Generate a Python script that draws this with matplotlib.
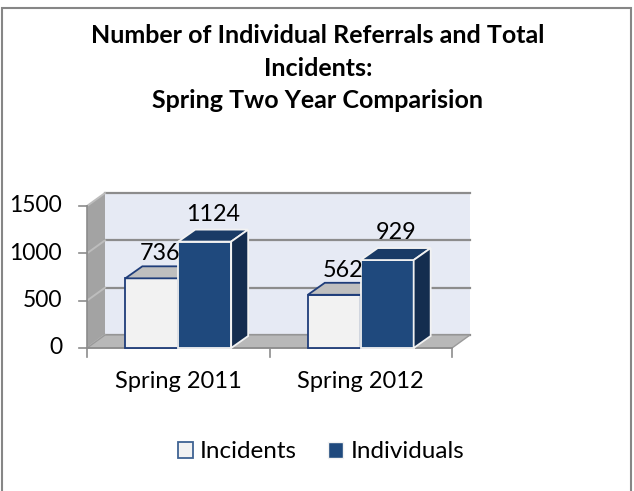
import matplotlib
matplotlib.use("Agg")
import matplotlib.pyplot as plt
from matplotlib.patches import Polygon, Rectangle

plt.rcParams['font.family'] = ['Lato', 'DejaVu Sans']

title = "Number of Individual Referrals and Total\nIncidents:\nSpring Two Year Comparision"
categories = ["Spring 2011", "Spring 2012"]
series_names = ["Incidents", "Individuals"]
incidents = [736, 562]
individuals = [1124, 929]
yticks = [0, 500, 1000, 1500]

W, H = 634, 491
fig = plt.figure(figsize=(W / 100, H / 100), dpi=100)
fig.patch.set_facecolor("white")

# border of chart area
fig.add_artist(Rectangle((1.5 / W, -0.01), (631 - 1.5) / W, (H - 8) / H + 0.01,
                         transform=fig.transFigure, fill=False, ec="#868686", lw=1.5))

# axes placed so front plane matches reference
x0, x1 = 87, 452
ybot, ytop = 348, 206
ax = fig.add_axes([x0 / W, (H - ybot) / H, (x1 - x0) / W, (ybot - ytop) / H])
ax.set_xlim(-0.5, 1.5)
ax.set_ylim(0, 1500)
ax.axis("off")

# depth offsets in data units (derived from pixel depth)
xpu = (x1 - x0) / 2.0
ypu = (ybot - ytop) / 1500.0
wdx, wdy = 18 / xpu, 13 / ypu
bdx, bdy = 17 / xpu, 12 / ypu

wall_col = "#E6EAF4"
grid_col = "#8C8C8C"
side_wall = "#A3A3A3"
floor_col = "#B8B8B8"

FS = 16.5

xl, xr = -0.5, 1.5
ymax = yticks[-1]
# back wall
ax.add_patch(Polygon([(xl + wdx, wdy), (xr + wdx, wdy), (xr + wdx, ymax + wdy), (xl + wdx, ymax + wdy)],
                     closed=True, fc=wall_col, ec="none", clip_on=False, zorder=1))
# left wall
ax.add_patch(Polygon([(xl, 0), (xl + wdx, wdy), (xl + wdx, ymax + wdy), (xl, ymax)],
                     closed=True, fc=side_wall, ec="none", clip_on=False, zorder=1))
# floor
ax.add_patch(Polygon([(xl, 0), (xr, 0), (xr + wdx, wdy), (xl + wdx, wdy)],
                     closed=True, fc=floor_col, ec="#9A9A9A", lw=1.0, clip_on=False, zorder=1.5))
# gridlines on back wall and left wall
for v in yticks:
    ax.plot([xl + wdx, xr + wdx], [v + wdy, v + wdy], color=grid_col, lw=1.6, clip_on=False, zorder=1.2)
    ax.plot([xl, xl + wdx], [v, v + wdy], color="#BDBDBD", lw=1.4, clip_on=False, zorder=1.2)
# front vertical axis edge
ax.plot([xl, xl], [0, ymax], color="#8C8C8C", lw=1.2, clip_on=False, zorder=1.3)
# y ticks
for v in yticks:
    ax.plot([xl - 8 / xpu, xl], [v, v], color="#8C8C8C", lw=1.2, clip_on=False, zorder=1.3)
    ax.text(xl - 25 / xpu, v, str(v), ha="right", va="center", fontsize=FS, color="black")
# x axis ticks
for t in [-0.5, 0.5, 1.5]:
    ax.plot([t, t], [0, -9 / ypu], color="#8C8C8C", lw=1.2, clip_on=False, zorder=1.3)
ax.plot([xl, xr], [0, 0], color="#8C8C8C", lw=1.2, clip_on=False, zorder=1.6)
for i, c in enumerate(categories):
    ax.text(i, -34 / ypu, c, ha="center", va="center", fontsize=17, color="black")

bw = 0.29
styles = [
    dict(front="#F2F2F2", top="#BFBFBF", side="#D0D0D0", edge="#1F3D7A"),
    dict(front="#1F497D", top="#1A3B66", side="#142D4F", edge="#F2F2F2"),
]


def bar3d(x_left, h, st, z):
    ax.bar([x_left], [h], width=bw, align="edge", color=st["front"], edgecolor=st["edge"],
           lw=1.3, zorder=z, clip_on=False)
    ax.add_patch(Polygon([(x_left, h), (x_left + bw, h), (x_left + bw + bdx, h + bdy), (x_left + bdx, h + bdy)],
                         closed=True, fc=st["top"], ec=st["edge"], lw=1.3, zorder=z, clip_on=False))
    ax.add_patch(Polygon([(x_left + bw, 0), (x_left + bw + bdx, bdy), (x_left + bw + bdx, h + bdy), (x_left + bw, h)],
                         closed=True, fc=st["side"], ec=st["edge"], lw=1.3, zorder=z, clip_on=False))


for i in range(len(categories)):
    bar3d(i - bw, incidents[i], styles[0], 3)
    bar3d(i, individuals[i], styles[1], 4)
    ax.text(i - bw / 2 + bdx / 2, incidents[i] + bdy + 2 / ypu, str(incidents[i]), ha="center", va="bottom",
            fontsize=16.8, zorder=6)
    ax.text(i + bw / 2 + bdx / 2, individuals[i] + bdy + 5 / ypu, str(individuals[i]), ha="center", va="bottom",
            fontsize=16.8, zorder=6)

# title
fig.text(318 / W, 1 - 68 / H, title, ha="center", va="center", fontsize=18, fontweight="bold",
         linespacing=1.5)

# legend
handles = [Rectangle((0, 0), 1, 1, fc=styles[0]["front"], ec="#3F6393", lw=1.3),
           Rectangle((0, 0), 1, 1, fc=styles[1]["front"], ec="#F2F2F2", lw=1.0)]
fig.legend(handles, series_names, loc="center", bbox_to_anchor=(321 / W, 1 - 452 / H), ncol=2,
           frameon=False, fontsize=17.5, handlelength=0.6, handleheight=0.6, handletextpad=0.3,
           columnspacing=1.3, borderaxespad=0)

fig.savefig("out.png", dpi=100, facecolor="white")
